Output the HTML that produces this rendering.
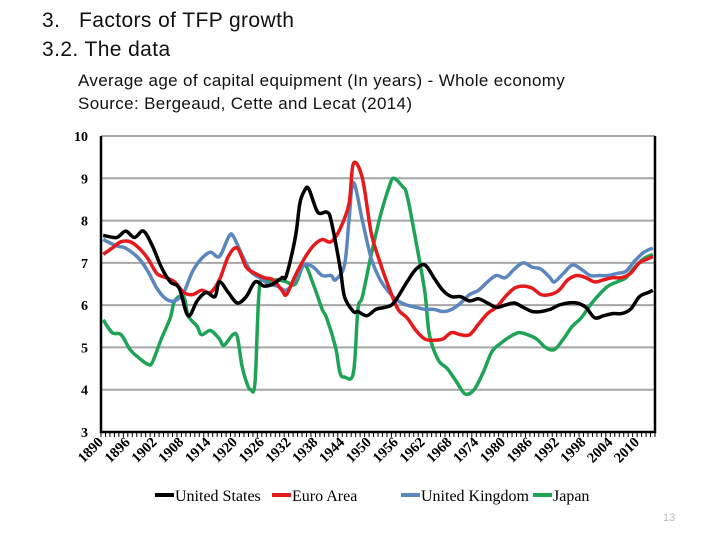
<!DOCTYPE html>
<html><head><meta charset="utf-8"><style>
body{margin:0;width:720px;height:540px;background:#fff;overflow:hidden;position:relative;font-family:"Liberation Sans",sans-serif}
.t{position:absolute;left:42px;font-size:21px;color:#111;white-space:pre;letter-spacing:0.4px}
.s{position:absolute;left:78px;font-size:17px;color:#111;letter-spacing:0.35px;white-space:nowrap}
</style></head><body>
<div class="t" style="top:9px">3.   Factors of TFP growth</div>
<div class="t" style="top:38px">3.2. The data</div>
<div class="s" style="top:71px">Average age of capital equipment (In years) - Whole economy</div>
<div class="s" style="top:94px">Source: Bergeaud, Cette and Lecat (2014)</div>
<svg id="c" width="720" height="540" style="position:absolute;left:0;top:0"></svg>
<script>
const yTicks=[3,4,5,6,7,8,9,10];
const xLabels=[1890,1896,1902,1908,1914,1920,1926,1932,1938,1944,1950,1956,1962,1968,1974,1980,1986,1992,1998,2004,2010];
const seriesNames=["United States","Euro Area","United Kingdom","Japan"];
const usYears=[1890,1893,1895,1897,1899,1901,1903,1905,1907,1909,1911,1913,1915,1916,1918,1920,1922,1924,1926,1928,1930,1931,1933,1934,1935,1936,1938,1940,1941,1943,1944,1946,1947,1949,1951,1953,1955,1958,1960,1962,1964,1966,1968,1970,1972,1974,1976,1978,1980,1982,1984,1986,1988,1990,1992,1994,1996,1998,2000,2002,2004,2006,2008,2010,2012,2013];
const usValues=[7.65,7.6,7.75,7.6,7.75,7.4,6.9,6.55,6.4,5.75,6.1,6.3,6.2,6.55,6.3,6.05,6.2,6.55,6.45,6.5,6.65,6.7,7.6,8.4,8.7,8.75,8.2,8.2,8.0,6.9,6.2,5.85,5.85,5.75,5.9,5.95,6.05,6.55,6.85,6.95,6.65,6.35,6.2,6.2,6.1,6.15,6.05,5.95,6.0,6.05,5.95,5.85,5.85,5.9,6.0,6.05,6.05,5.95,5.7,5.75,5.8,5.8,5.9,6.2,6.3,6.35];
const euYears=[1890,1892,1894,1896,1898,1900,1902,1904,1906,1908,1910,1912,1914,1916,1918,1920,1922,1924,1926,1928,1930,1931,1933,1935,1937,1939,1941,1943,1945,1946,1948,1950,1952,1954,1956,1958,1960,1962,1964,1966,1968,1970,1972,1974,1976,1978,1980,1982,1984,1986,1988,1990,1992,1994,1996,1998,2000,2002,2004,2006,2008,2010,2012,2013];
const euValues=[7.2,7.35,7.5,7.5,7.35,7.1,6.75,6.65,6.55,6.3,6.25,6.35,6.3,6.6,7.15,7.35,6.9,6.75,6.65,6.6,6.35,6.25,6.7,7.1,7.4,7.55,7.5,7.8,8.4,9.35,9.0,7.7,7.0,6.4,5.9,5.7,5.4,5.2,5.17,5.2,5.35,5.3,5.3,5.55,5.8,5.95,6.2,6.4,6.45,6.4,6.25,6.25,6.35,6.6,6.7,6.65,6.55,6.6,6.65,6.65,6.75,7.0,7.1,7.15];
const ukYears=[1890,1893,1895,1898,1900,1902,1904,1906,1908,1910,1912,1914,1916,1918,1919,1921,1923,1925,1927,1929,1931,1933,1935,1937,1939,1941,1942,1944,1945,1946,1948,1950,1952,1954,1956,1958,1960,1962,1964,1966,1968,1970,1972,1974,1976,1978,1980,1982,1984,1986,1988,1990,1991,1993,1995,1997,1999,2001,2003,2005,2007,2009,2011,2013];
const ukValues=[7.55,7.4,7.35,7.1,6.8,6.4,6.15,6.1,6.3,6.8,7.1,7.25,7.15,7.6,7.65,7.2,6.8,6.65,6.5,6.45,6.35,6.6,6.95,6.9,6.7,6.7,6.6,6.95,8.0,8.9,8.0,7.1,6.6,6.3,6.1,6.0,5.95,5.9,5.9,5.85,5.9,6.05,6.25,6.35,6.55,6.7,6.65,6.85,7.0,6.9,6.85,6.65,6.55,6.75,6.95,6.85,6.7,6.7,6.7,6.75,6.8,7.05,7.25,7.35];
const jpYears=[1890,1892,1894,1896,1898,1900,1901,1903,1905,1906,1908,1909,1911,1912,1914,1916,1917,1919,1920,1921,1922,1923,1924,1925,1927,1929,1931,1933,1935,1937,1939,1940,1942,1943,1944,1946,1947,1948,1950,1952,1954,1955,1957,1958,1960,1962,1963,1965,1967,1969,1971,1973,1975,1977,1979,1981,1983,1985,1987,1989,1991,1993,1995,1997,1999,2001,2003,2005,2007,2009,2011,2013];
const jpValues=[5.65,5.35,5.3,4.95,4.75,4.6,4.65,5.2,5.7,6.1,6.2,5.75,5.5,5.3,5.4,5.2,5.05,5.3,5.25,4.6,4.2,4.0,4.2,6.45,6.55,6.6,6.55,6.5,6.95,6.5,5.9,5.7,5.0,4.4,4.3,4.4,5.9,6.2,7.2,8.1,8.8,9.0,8.8,8.6,7.5,6.3,5.3,4.7,4.5,4.2,3.9,4.0,4.4,4.9,5.1,5.25,5.35,5.3,5.2,5.0,4.95,5.2,5.5,5.7,6.0,6.25,6.45,6.55,6.65,6.9,7.1,7.2];
const NS="http://www.w3.org/2000/svg",svg=document.getElementById('c');
const L=101,R=655,T=136,B=432;
const x=yr=>L+(yr-1890+0.5)*(R-L)/124;
const y=v=>B-(v-3)*(B-T)/7;
function mk(tag,attrs,parent){const e=document.createElementNS(NS,tag);for(const k in attrs)e.setAttribute(k,attrs[k]);(parent||svg).appendChild(e);return e;}
function smooth(pts){
  let d='M'+pts[0][0].toFixed(1)+' '+pts[0][1].toFixed(1);
  for(let i=0;i<pts.length-1;i++){
    const p0=pts[i-1]||pts[i],p1=pts[i],p2=pts[i+1],p3=pts[i+2]||p2;
    const c1=[p1[0]+(p2[0]-p0[0])/6,p1[1]+(p2[1]-p0[1])/6];
    const c2=[p2[0]-(p3[0]-p1[0])/6,p2[1]-(p3[1]-p1[1])/6];
    d+='C'+c1.map(n=>n.toFixed(1)).join(' ')+' '+c2.map(n=>n.toFixed(1)).join(' ')+' '+p2[0].toFixed(1)+' '+p2[1].toFixed(1);
  }
  return d;
}
yTicks.forEach(v=>{
  if(v>3){const g=mk('line',{x1:L,x2:R,y1:y(v),y2:y(v),stroke:'#a6a6a6','stroke-width':2});
  
  }
  const t=mk('text',{x:88,y:y(v)+5,'text-anchor':'end','font-family':'Liberation Serif,serif','font-weight':'bold','font-size':14});
  t.textContent=v;
  
  
});
const ax=mk('path',{d:`M${L} ${T}V${B}H${R}V${T}`,fill:'none',stroke:'#000','stroke-width':2.5});


for(let i=0;i<=124;i++){const xx=L+i*(R-L)/124;mk('line',{x1:xx,x2:xx,y1:B,y2:B+5,stroke:'#000','stroke-width':1});}
xLabels.forEach(yr=>{
  const px=L+(yr-1890)*(R-L)/124;
  const t=mk('text',{x:px+3,y:B+11,'text-anchor':'end','font-family':'Liberation Serif,serif','font-weight':'bold','font-size':14.5,transform:`rotate(-45 ${px+3} ${B+11})`});
  t.textContent=yr;
  
  
});
const colors=['#000000','#e41a1c','#5b86be','#1fa356'];
const data=[[usYears,usValues],[euYears,euValues],[ukYears,ukValues],[jpYears,jpValues]];
const keys=['united-states','euro-area','united-kingdom','japan'];
[3,2,1,0].forEach(i=>{
  const [ys,vs]=data[i];
  const pts=ys.map((yr,j)=>[x(yr),y(vs[j])]);
  const p=mk('path',{d:smooth(pts),fill:'none',stroke:colors[i],'stroke-width':3.5,'stroke-linejoin':'round'});
  
  
});
const lx=[155,272,401,533];
seriesNames.forEach((n,i)=>{
  const g=mk('g',{});
  
  
  mk('line',{x1:lx[i],x2:lx[i]+19,y1:495,y2:495,stroke:colors[i],'stroke-width':4},g);
  const t=mk('text',{x:lx[i]+20,y:501,'font-family':'Liberation Serif,serif','font-size':16},g);
  t.textContent=n;
});
const pg=mk('text',{x:663,y:521,'font-family':'Liberation Sans,sans-serif','font-size':11,fill:'#bbb'});
pg.textContent='13';


</script>
</body></html>
